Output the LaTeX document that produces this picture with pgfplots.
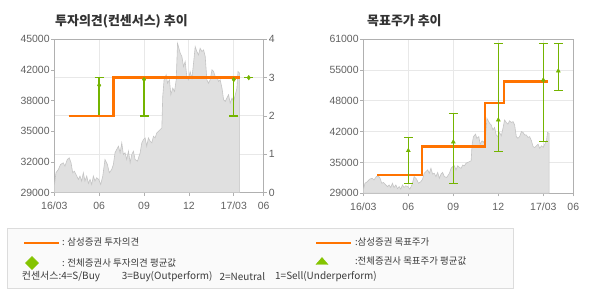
\documentclass[border=0pt]{standalone}
\usepackage{fontspec}
\usepackage{pgfplots}
\usepackage{pgfplotstable}
\pgfplotsset{compat=1.18}
\setmainfont{Noto Sans CJK KR}
\newfontfamily\tickfont{Liberation Sans}
\definecolor{orangeC}{RGB}{255,115,0}
\definecolor{greenC}{RGB}{116,180,0}
\definecolor{legendgreen}{RGB}{132,196,0}
\definecolor{areagray}{RGB}{224,224,224}
\definecolor{arealine}{RGB}{196,196,196}
\definecolor{gridgray}{RGB}{232,232,232}
\definecolor{boxgray}{RGB}{176,176,176}
\definecolor{ticklab}{RGB}{96,96,96}
\definecolor{titlec}{RGB}{51,51,51}
\definecolor{legtext}{RGB}{60,60,60}
\definecolor{boxborder}{RGB}{220,220,220}
\definecolor{boxfill}{RGB}{250,250,250}

\pgfplotstableread{
m v
0.00 29693
0.11 31078
0.27 31424
0.42 31944
0.60 32117
0.71 31770
0.87 32463
1.00 32636
1.12 32117
1.23 31078
1.34 31251
1.45 30905
1.61 30385
1.72 30732
1.83 30212
1.94 31078
2.05 30212
2.17 30732
2.28 29970
2.39 30385
2.50 29866
2.61 30732
2.72 30212
2.83 30558
2.97 30385
3.10 29866
3.24 30732
3.39 32463
3.55 31944
3.68 31078
3.84 31424
3.95 31944
4.06 33156
4.17 33502
4.29 33848
4.40 33156
4.51 34195
4.62 32982
4.73 33156
4.84 32463
4.96 33329
5.07 32117
5.18 32982
5.29 33329
5.40 32463
5.56 32290
5.74 33156
5.85 34195
5.96 34541
6.07 34714
6.18 33848
6.29 34714
6.41 34368
6.52 34195
6.63 34887
6.74 34714
6.85 35233
6.96 35407
7.08 35580
7.19 35753
7.25 39043
7.34 40774
7.48 41294
7.57 40428
7.70 40774
7.79 39216
7.92 39908
8.04 39562
8.15 40774
8.24 44584
8.33 44064
8.42 43545
8.53 43198
8.64 42159
8.75 42679
8.86 41121
8.97 40774
9.08 41640
9.20 40947
9.31 42506
9.42 44237
9.53 43718
9.64 43371
9.75 44064
9.87 43718
9.98 43891
10.09 43198
10.20 40774
10.31 40428
10.42 40774
10.54 41813
10.65 41640
10.76 41121
10.87 41121
10.98 40601
11.09 40774
11.21 39909
11.32 38696
11.43 38523
11.54 38870
11.65 39216
11.76 38350
11.88 38870
11.99 38523
12.10 39216
12.21 39909
12.28 41640
12.39 41467
}\pricetable

\pgfplotstableread{
m v ep em
3 2.80 0.20 0.80
6 2.95 0.05 0.95
12 2.95 0.05 0.95
13 3.00 0.00 0.00
}\opinionavg

\pgfplotstableread{
m v ep em
3 37870 2770 6790
6 39670 5950 8590
9 44240 15930 6510
12 52550 7620 12750
13 54420 5750 4020
}\targetavg

\pgfplotsset{
  base/.style={
    scale only axis, xmin=0, xmax=14,
    tick align=outside, major tick length=3bp,
    tick style={draw=boxgray, line width=0.8bp},
    axis line style={draw=boxgray, line width=1bp},
    ticklabel style={font=\tickfont\fontsize{10.5}{12}\selectfont, text=ticklab},
    /pgf/number format/assume math mode=true,
    grid style={draw=gridgray, line width=1bp},
    scaled y ticks=false,
    xtick={0,3,6,9,12,14},
    xticklabels={16/03,06,09,12,17/03,06},
    xticklabel style={yshift=-3bp},
  },
  errgreen/.style={
    color=greenC, draw=greenC, fill=greenC, only marks, mark size=2.3bp,
    mark options={draw=greenC, fill=greenC},
    error bars/y dir=both, error bars/y explicit,
    error bars/error bar style={line width=1.4bp, draw=greenC},
    error bars/error mark options={rotate=90, mark size=4.5bp, line width=1.4bp, draw=greenC},
  },
}

\begin{document}
\begin{tikzpicture}
\useasboundingbox (0,0) rectangle (590bp,300bp);

% titles
\node[anchor=west, font=\bfseries\fontsize{13}{15}\selectfont, text=titlec, inner sep=0pt] at (55bp,279bp) {투자의견(컨센서스) 추이};
\node[anchor=west, font=\bfseries\fontsize{13}{15}\selectfont, text=titlec, inner sep=0pt] at (367bp,279bp) {목표주가 추이};

% ---------- left chart: grid (opinion scale) ----------
\begin{axis}[base, at={(54.3bp,107.3bp)}, anchor=south west,
  width=209.4bp, height=153.4bp,
  ymin=0, ymax=4, ytick={0,1,2,3,4},
  axis y line*=right, axis x line=none, ymajorgrids,
  yticklabel style={inner sep=2bp}]
\end{axis}
% price area with left scale
\begin{axis}[base, at={(54.3bp,107.3bp)}, anchor=south west,
  width=209.4bp, height=153.4bp,
  ymin=29000, ymax=45000,
  ytick={29000,32200,35400,38600,41800,45000},
  yticklabels={29000,32000,35000,38000,42000,45000},
  ytick pos=left, xtick pos=bottom, xmajorgrids,
  yticklabel style={inner sep=1.5bp}]
\addplot[fill=areagray, draw=arealine, line width=0.6bp] table[x=m,y=v]{\pricetable} \closedcycle;
\end{axis}
% opinion plots
\begin{axis}[base, at={(54.3bp,107.3bp)}, anchor=south west,
  width=209.4bp, height=153.4bp,
  ymin=0, ymax=4, hide axis]
\addplot[errgreen, mark=diamond*] table[x=m,y=v,y error plus=ep,y error minus=em]{\opinionavg};
\addplot[orangeC, line width=2.6bp, const plot] coordinates {(0.95,2) (3.95,3) (12.40,3)};
\end{axis}

% ---------- right chart ----------
\begin{axis}[base, at={(363.3bp,106.7bp)}, anchor=south west,
  width=210bp, height=154bp,
  ymin=29000, ymax=61000,
  ytick={29000,35400,41800,48200,54600,61000},
  yticklabels={29000,35000,42000,48000,55000,61000},
  ytick pos=left, xtick pos=bottom, grid=major,
  yticklabel style={inner sep=1.5bp}]
\addplot[fill=areagray, draw=arealine, line width=0.6bp] table[x=m,y=v]{\pricetable} \closedcycle;
\addplot[orangeC, line width=2.6bp, const plot] coordinates {(0.93,32800) (3.91,38700) (8.11,47800) (9.38,52200) (12.29,52200)};
\addplot[errgreen, mark=triangle*] table[x=m,y=v,y error plus=ep,y error minus=em]{\targetavg};
\end{axis}

% ---------- legend box ----------
\draw[draw=boxborder, fill=boxfill, line width=1bp] (7.3bp,11bp) rectangle (513.3bp,71.7bp);

\begin{axis}[at={(23bp,62bp)}, anchor=south west, scale only axis, width=10bp, height=10bp,
  hide axis, xmin=0, xmax=1, ymin=0, ymax=1,
  legend cell align=left,
  legend style={at={(axis description cs:0,0)}, anchor=north west, draw=none, fill=none,
    inner sep=0pt, outer sep=0pt, row sep=9bp,
    font=\fontsize{9.5}{11}\selectfont, text=legtext,
    nodes={inner sep=0pt},
    /tikz/every odd column/.append style={column sep=2bp}}]
\addlegendimage{legend image code/.code={\draw[orangeC, line width=2bp] (0bp,0bp) -- (35bp,0bp);}}
\addlegendentry{: 삼성증권 투자의견}
\addlegendimage{legend image code/.code={\fill[legendgreen] (8bp,-6.5bp) -- (14.5bp,0bp) -- (8bp,6.5bp) -- (1.5bp,0bp) -- cycle; \path (35bp,0bp);}}
\addlegendentry{: 전체증권사 투자의견 평균값}
\end{axis}

\begin{axis}[at={(315bp,62bp)}, anchor=south west, scale only axis, width=10bp, height=10bp,
  hide axis, xmin=0, xmax=1, ymin=0, ymax=1,
  legend cell align=left,
  legend style={at={(axis description cs:0,0)}, anchor=north west, draw=none, fill=none,
    inner sep=0pt, outer sep=0pt, row sep=9bp,
    font=\fontsize{9.5}{11}\selectfont, text=legtext,
    nodes={inner sep=0pt},
    /tikz/every odd column/.append style={column sep=3bp}}]
\addlegendimage{legend image code/.code={\draw[orangeC, line width=2bp] (0bp,0bp) -- (35bp,0bp);}}
\addlegendentry{:삼성증권 목표주가}
\addlegendimage{legend image code/.code={\fill[legendgreen] (0bp,-3.5bp) -- (12bp,-3.5bp) -- (6bp,3.5bp) -- cycle; \path (35bp,0bp);}}
\addlegendentry{:전체증권사 목표주가 평균값}
\end{axis}

\node[anchor=west, inner sep=0pt, font=\fontsize{10}{12}\selectfont, text=legtext] at (21.7bp,23bp) {컨센서스:4=S/Buy};
\node[anchor=west, inner sep=0pt, font=\fontsize{10}{12}\selectfont, text=legtext] at (121.7bp,23bp) {3=Buy(Outperform)};
\node[anchor=west, inner sep=0pt, font=\fontsize{10}{12}\selectfont, text=legtext] at (219.3bp,23bp) {2=Neutral};
\node[anchor=west, inner sep=0pt, font=\fontsize{10}{12}\selectfont, text=legtext] at (275bp,23bp) {1=Sell(Underperform)};
\end{tikzpicture}
\end{document}
